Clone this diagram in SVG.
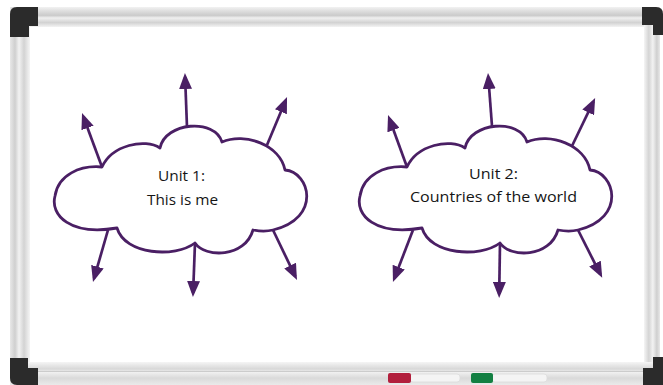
<svg xmlns="http://www.w3.org/2000/svg" width="663" height="385" viewBox="0 0 663 385">
  <defs>
    <linearGradient id="gTop" x1="0" y1="0" x2="0" y2="1">
      <stop offset="0" stop-color="#f2f2f2"/>
      <stop offset="0.2" stop-color="#dedede"/>
      <stop offset="0.42" stop-color="#cbcbcb"/>
      <stop offset="0.55" stop-color="#f0f0f0"/>
      <stop offset="0.78" stop-color="#d2d2d2"/>
      <stop offset="1" stop-color="#f3f3f3"/>
    </linearGradient>
    <linearGradient id="gLeft" x1="0" y1="0" x2="1" y2="0">
      <stop offset="0" stop-color="#e8e8e8"/>
      <stop offset="0.25" stop-color="#cfcfcf"/>
      <stop offset="0.45" stop-color="#f2f2f2"/>
      <stop offset="0.7" stop-color="#d3d3d3"/>
      <stop offset="1" stop-color="#f5f5f5"/>
    </linearGradient>
    <linearGradient id="gRight" x1="0" y1="0" x2="1" y2="0">
      <stop offset="0" stop-color="#f5f5f5"/>
      <stop offset="0.3" stop-color="#d4d4d4"/>
      <stop offset="0.55" stop-color="#f2f2f2"/>
      <stop offset="0.8" stop-color="#cfcfcf"/>
      <stop offset="1" stop-color="#e8e8e8"/>
    </linearGradient>
    <linearGradient id="gBot" x1="0" y1="0" x2="0" y2="1">
      <stop offset="0" stop-color="#f5f5f5"/>
      <stop offset="0.3" stop-color="#d8d8d8"/>
      <stop offset="0.45" stop-color="#f0f0f0"/>
      <stop offset="0.7" stop-color="#dadada"/>
      <stop offset="1" stop-color="#eaeaea"/>
    </linearGradient>
    <marker id="ah" viewBox="0 0 16 13" refX="12" refY="6.5" markerWidth="16" markerHeight="13" orient="auto" markerUnits="userSpaceOnUse">
      <path d="M0,0 L16,6.5 L0,13 z" fill="#4a1f64"/>
    </marker>
    <path id="cloud" d="M117,228 C70,236 50,215 55,196 C58,175 80,165 102,167 C112,145 145,138 160,148 C165,122 215,118 222,142 C245,132 280,145 285,170 C310,172 322,218 273,230 C265,232 258,231 253,230 C245,258 205,258 195,243 C175,258 125,255 117,228 Z"/>
  </defs>
  <style>
    .cloud { fill: #ffffff; stroke: #4a1f64; stroke-width: 2.8; stroke-linejoin: round; }
    .arr { stroke: #4a1f64; stroke-width: 2.7; fill: none; marker-end: url(#ah); }
    .lbl { font-family: "Open Sans", "Noto Sans", "DejaVu Sans", sans-serif; font-size: 15px; fill: #151515; text-anchor: middle; }
    .cap { fill: #2b2b2b; }
  </style>

  <rect x="0" y="0" width="663" height="385" fill="#ffffff"/>

  <g id="board">
    <rect id="frame-top" x="10" y="7" width="645" height="20" fill="url(#gTop)"/>
    <rect id="frame-left" x="10" y="7" width="20" height="372" fill="url(#gLeft)"/>
    <rect id="frame-right" x="644" y="7" width="16" height="372" fill="url(#gRight)"/>
    <rect id="frame-bottom" x="10" y="362" width="650" height="23" fill="url(#gBot)"/>
    <line x1="30" y1="371.5" x2="644" y2="371.5" stroke="#cccccc" stroke-width="1"/>
    <rect x="30" y="27" width="614" height="335" fill="#ffffff"/>
    <path class="cap" d="M10,14 Q10,7 17,7 L38,7 L38,26 L29,26 L29,37 L10,37 Z"/>
    <path class="cap" d="M642,7 L656,7 Q663,7 663,14 L663,35 L653,35 L653,25 L642,25 Z"/>
    <path class="cap" d="M10,358 L28,358 L28,368 L38,368 L38,385 L17,385 Q10,385 10,378 Z"/>
    <path class="cap" d="M653,357 L663,357 L663,385 L643,385 L643,368 L653,368 Z"/>
  </g>

  <g id="markers">
    <rect x="410" y="374" width="50" height="8" rx="3" fill="#f4f4f4" stroke="#dcdcdc" stroke-width="0.8"/>
    <rect x="388" y="373" width="23" height="10" rx="2" fill="#b21f3d"/>
    <rect x="492" y="374" width="55" height="8" rx="3" fill="#f4f4f4" stroke="#dcdcdc" stroke-width="0.8"/>
    <rect x="471" y="373" width="22" height="10" rx="2" fill="#138043"/>
  </g>

  <g id="connectors">
    <line class="arr" x1="102" y1="167" x2="83.4" y2="116.7"/>
    <line class="arr" x1="187" y1="127" x2="185.1" y2="77"/>
    <line class="arr" x1="267" y1="145" x2="285.5" y2="100.7"/>
    <line class="arr" x1="108" y1="230" x2="94.1" y2="278.2"/>
    <line class="arr" x1="195" y1="243" x2="193.1" y2="293"/>
    <line class="arr" x1="273" y1="230" x2="295.3" y2="276.4"/>

    <line class="arr" x1="407" y1="167" x2="389.4" y2="118.8"/>
    <line class="arr" x1="492" y1="126" x2="488.3" y2="77"/>
    <line class="arr" x1="572" y1="146" x2="593.4" y2="101.6"/>
    <line class="arr" x1="413" y1="230" x2="394.4" y2="278.3"/>
    <line class="arr" x1="500" y1="243" x2="499.2" y2="294"/>
    <line class="arr" x1="578" y1="230" x2="600.4" y2="274.3"/>
  </g>

  <g id="unit1">
    <use href="#cloud" class="cloud"/>
    <text class="lbl" x="181.5" y="181" textLength="47" lengthAdjust="spacingAndGlyphs">Unit 1:</text>
    <text class="lbl" x="182.5" y="205" textLength="71" lengthAdjust="spacingAndGlyphs">This is me</text>
  </g>

  <g id="unit2">
    <use href="#cloud" class="cloud" transform="translate(305,0)"/>
    <text class="lbl" x="493.5" y="179" textLength="49" lengthAdjust="spacingAndGlyphs">Unit 2:</text>
    <text class="lbl" x="493.5" y="202" textLength="167" lengthAdjust="spacingAndGlyphs">Countries of the world</text>
  </g>
</svg>
